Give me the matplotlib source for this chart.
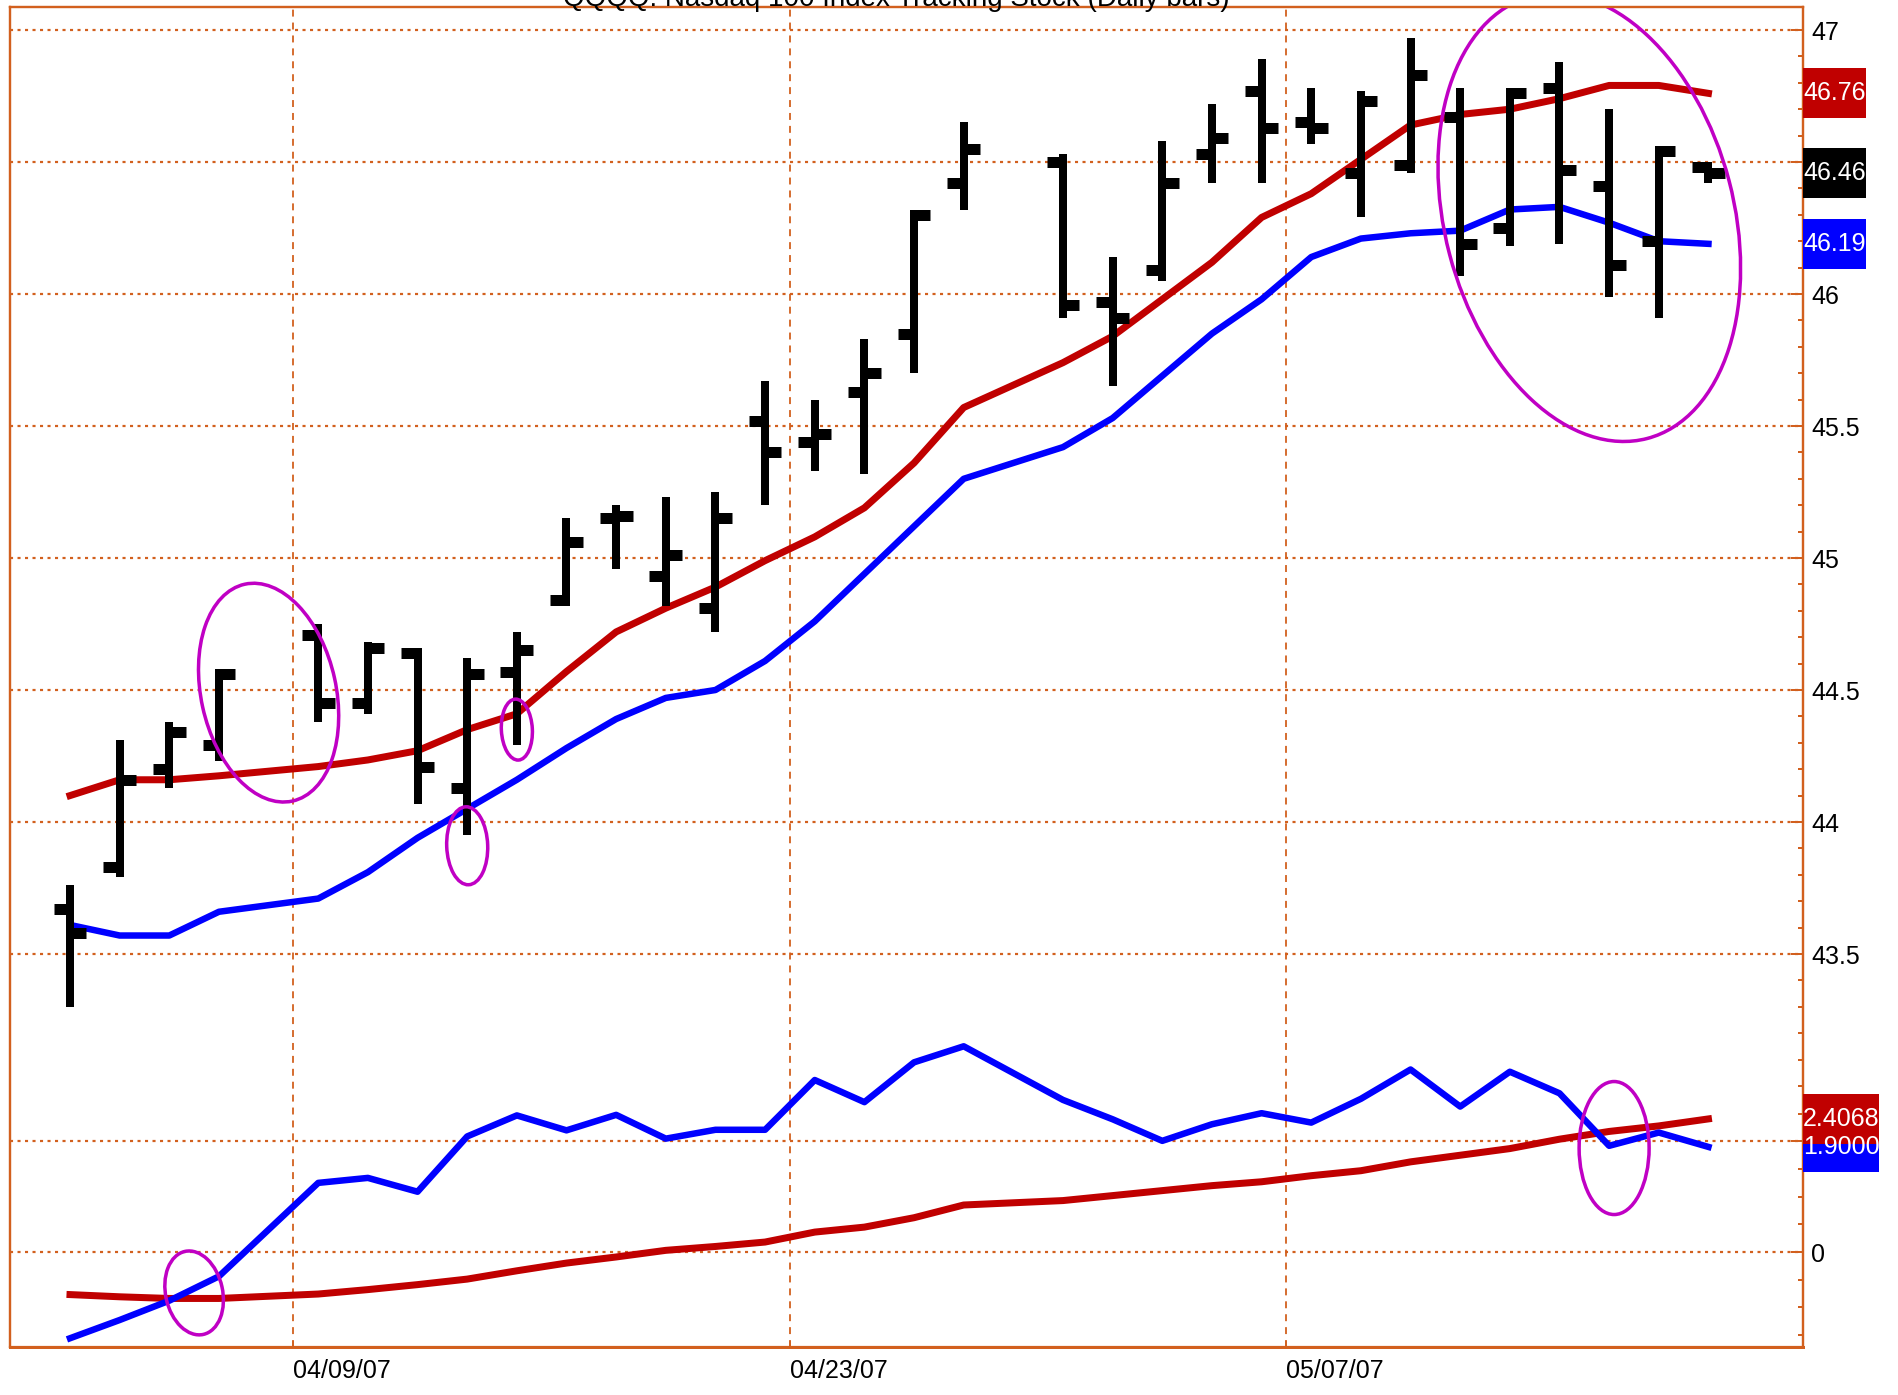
import numpy as np
import matplotlib
matplotlib.use('Agg')
import matplotlib.pyplot as plt
import matplotlib.font_manager as fm
from matplotlib.patches import Ellipse, Rectangle
from matplotlib.transforms import IdentityTransform

# ---------------- data ----------------
dates = ['2007-04-02', '2007-04-03', '2007-04-04', '2007-04-05', '2007-04-09',
         '2007-04-10', '2007-04-11', '2007-04-12', '2007-04-13', '2007-04-16',
         '2007-04-17', '2007-04-18', '2007-04-19', '2007-04-20', '2007-04-23',
         '2007-04-24', '2007-04-25', '2007-04-26', '2007-04-30', '2007-05-01',
         '2007-05-02', '2007-05-03', '2007-05-04', '2007-05-07', '2007-05-08',
         '2007-05-09', '2007-05-10', '2007-05-11', '2007-05-14', '2007-05-15',
         '2007-05-16', '2007-05-17']
opens = [43.67, 43.83, 44.20, 44.29, 44.71, 44.45, 44.64, 44.13, 44.57, 44.84,
         45.15, 44.93, 44.81, 45.52, 45.44, 45.63, 45.85, 46.42, 46.50, 45.97,
         46.09, 46.53, 46.77, 46.65, 46.46, 46.49, 46.67, 46.25, 46.78, 46.41,
         46.20, 46.48]
highs = [43.76, 44.31, 44.38, 44.58, 44.75, 44.68, 44.66, 44.62, 44.72, 45.15,
         45.20, 45.23, 45.25, 45.67, 45.60, 45.83, 46.32, 46.65, 46.53, 46.14,
         46.58, 46.72, 46.89, 46.78, 46.77, 46.97, 46.78, 46.78, 46.88, 46.70,
         46.56, 46.50]
lows = [43.30, 43.79, 44.13, 44.23, 44.38, 44.41, 44.07, 43.95, 44.29, 44.82,
        44.96, 44.82, 44.72, 45.20, 45.33, 45.32, 45.70, 46.32, 45.91, 45.65,
        46.05, 46.42, 46.42, 46.57, 46.29, 46.46, 46.07, 46.18, 46.19, 45.99,
        45.91, 46.42]
closes = [43.58, 44.16, 44.34, 44.56, 44.45, 44.66, 44.21, 44.56, 44.65, 45.06,
          45.16, 45.01, 45.15, 45.40, 45.47, 45.70, 46.30, 46.55, 45.96, 45.91,
          46.42, 46.59, 46.63, 46.63, 46.73, 46.83, 46.19, 46.76, 46.47, 46.11,
          46.54, 46.46]
ma_red = [44.10, 44.16, 44.16, 44.175, 44.21, 44.235, 44.27, 44.35, 44.41, 44.57,
          44.72, 44.81, 44.89, 44.99, 45.08, 45.19, 45.36, 45.57, 45.74, 45.84,
          45.98, 46.12, 46.29, 46.38, 46.51, 46.64, 46.68, 46.70, 46.74, 46.79,
          46.79, 46.76]
ma_blue = [43.61, 43.57, 43.57, 43.66, 43.71, 43.81, 43.94, 44.05, 44.16, 44.28,
           44.39, 44.47, 44.50, 44.61, 44.76, 44.94, 45.12, 45.30, 45.42, 45.53,
           45.69, 45.85, 45.98, 46.14, 46.21, 46.23, 46.24, 46.32, 46.33, 46.27,
           46.20, 46.19]
osc_blue = [-1.56, -1.23, -0.88, -0.44, 1.25, 1.34, 1.09, 2.09, 2.47, 2.20,
            2.48, 2.05, 2.21, 2.21, 3.11, 2.71, 3.43, 3.72, 2.75, 2.40,
            2.01, 2.31, 2.51, 2.34, 2.77, 3.30, 2.63, 3.26, 2.87, 1.92,
            2.16, 1.9000]
osc_red = [-0.77, -0.81, -0.84, -0.84, -0.76, -0.68, -0.59, -0.49, -0.34, -0.20,
           -0.09, 0.03, 0.10, 0.18, 0.36, 0.45, 0.62, 0.85, 0.93, 1.02,
           1.11, 1.20, 1.27, 1.38, 1.47, 1.63, 1.75, 1.87, 2.04, 2.18,
           2.28, 2.4068]
xtick_dates = ['2007-04-09', '2007-04-23', '2007-05-07']
xtick_labels = ['04/09/07', '04/23/07', '05/07/07']
price_ticks = [43.5, 44.0, 44.5, 45.0, 45.5, 46.0, 46.5, 47.0]
price_tick_labels = ['43.5', '44', '44.5', '45', '45.5', '46', '', '47']  # 46.5 hidden by box
osc_ticks = [0, 2]
osc_tick_labels = ['0', '']  # 2 hidden by boxes
title = 'QQQQ: Nasdaq 100 Index Tracking Stock (Daily bars)'

# ---------------- style ----------------
names = {f.name for f in fm.fontManager.ttflist}
FONT = 'Liberation Sans' if 'Liberation Sans' in names else 'DejaVu Sans'
plt.rcParams['font.family'] = [FONT, 'DejaVu Sans']
plt.rcParams['lines.scale_dashes'] = False
PX = 0.72  # points per pixel at dpi 100
GRID = '#D2601E'
RED = '#C00000'
BLUE = '#0000FF'
MAG = '#C000C4'
FS = 18
BOX_FS = 18

slots = np.busday_count(dates[0], dates).astype(float)
tick_slots = np.busday_count(dates[0], xtick_dates) - 0.5

fig = plt.figure(figsize=(18.98, 13.95), dpi=100)
W, H = 1898.0, 1395.0
L, R, T, B = 9.7, 1803.0, 7.0, 1347.0
ax = fig.add_axes([L / W, 1 - B / H, (R - L) / W, (B - T) / H])
ax2 = ax.twinx()

x0, dx = 70.0, 49.65
ax.set_xlim((L - x0) / dx, (R - x0) / dx)
p_top, p_px = 47.0, 264.0   # price 47 at y=30px, 264 px per unit
ax.set_ylim(p_top - (B - 30) / p_px, p_top + (30 - T) / p_px)
o_zero, o_px = 1252.0, 55.3
ax2.set_ylim((o_zero - B) / o_px, (o_zero - T) / o_px)

for a in (ax, ax2):
    for s in a.spines.values():
        s.set_color(GRID)
        s.set_linewidth(2.2 * PX)
ax2.spines['bottom'].set_linewidth(3 * PX)

# grid lines
for p in price_ticks:
    ln = ax.axhline(p, color=GRID, lw=2.2 * PX, zorder=0.5)
    ln.set_dashes((2.2, 3.2))
for o in osc_ticks:
    ln = ax2.axhline(o, color=GRID, lw=2.2 * PX, zorder=0.5)
    ln.set_dashes((2.2, 3.2))
for t in tick_slots:
    ln = ax.axvline(t, color=GRID, lw=1.8 * PX, zorder=0.5)
    ln.set_dashes((5.0, 4.3))

# moving averages
ax.plot(slots, ma_red, color=RED, lw=7 * PX, solid_joinstyle='round', zorder=2)
ax.plot(slots, ma_blue, color=BLUE, lw=6.5 * PX, solid_joinstyle='round', zorder=2)

# OHLC bars
tk = 0.33
vl = ax.vlines(slots, lows, highs, color='black', lw=8 * PX, zorder=3)
vl.set_capstyle('butt')
hl1 = ax.hlines(opens, slots - tk, slots, color='black', lw=11 * PX, zorder=3)
hl2 = ax.hlines(closes, slots, slots + tk, color='black', lw=11 * PX, zorder=3)
hl1.set_capstyle('butt')
hl2.set_capstyle('butt')

# oscillator
ax2.plot(slots, osc_red, color=RED, lw=7 * PX, solid_joinstyle='round', zorder=2)
ax2.plot(slots, osc_blue, color=BLUE, lw=6.5 * PX, solid_joinstyle='round', zorder=2)

# ticks
ax.yaxis.tick_right()
ax.set_yticks(price_ticks)
ax.set_yticklabels(price_tick_labels)
ax.set_yticks([round(v, 1) for v in np.arange(43.1, 47.05, 0.1)
               if round(v, 1) not in price_ticks], minor=True)
ax2.set_yticks(osc_ticks)
ax2.set_yticklabels(osc_tick_labels)
ax2.set_yticks([-1.5, -1.0, -0.5, 0.5, 1.0, 1.5, 2.5, 3.0], minor=True)
for a in (ax, ax2):
    a.tick_params(axis='y', which='major', direction='in', length=12 * PX,
                  width=2 * PX, color=GRID, labelsize=FS, pad=8 * PX,
                  labelcolor='black', left=False, right=True, labelleft=False,
                  labelright=True)
    a.tick_params(axis='y', which='minor', direction='in', length=5 * PX,
                  width=2 * PX, color=GRID, left=False, right=True)
ax.set_xticks(tick_slots)
ax.set_xticklabels(xtick_labels)
ax.tick_params(axis='x', direction='in', length=6 * PX, width=1.5 * PX,
               color=GRID, labelsize=FS, pad=12 * PX, top=False)
for lab in ax.get_xticklabels():
    lab.set_ha('left')
ax2.tick_params(axis='x', bottom=False, labelbottom=False)

# value boxes at right
def value_box(axis, value, text, color, width_px):
    trans = axis.get_yaxis_transform()
    w_ax = width_px / (R - L)
    h_px = 50.0
    scale = p_px if axis is ax else o_px
    h = h_px / scale
    rect = Rectangle((1.0, value - h / 2), w_ax, h, transform=trans,
                     facecolor=color, edgecolor='none', clip_on=False, zorder=20)
    fig.add_artist(rect)
    fig.add_artist(plt.Text(1.0 + w_ax / 2, value, text, transform=trans,
                            ha='center', va='center', color='white',
                            fontsize=BOX_FS, zorder=21, clip_on=False,
                            family=[FONT, 'DejaVu Sans']))

value_box(ax, ma_red[-1], f'{ma_red[-1]:.2f}', RED, 63)
value_box(ax, closes[-1], f'{closes[-1]:.2f}', 'black', 63)
value_box(ax, ma_blue[-1], f'{ma_blue[-1]:.2f}', BLUE, 63)
value_box(ax2, osc_blue[-1], f'{osc_blue[-1]:.4f}', BLUE, 76)
value_box(ax2, osc_red[-1], f'{osc_red[-1]:.4f}', RED, 76)

# title (mostly cut off at the top edge as in the original)
fig.text(896 / W, 1 - 6 / H, title, ha='center', va='baseline',
         fontsize=20, color='black')

# hand-drawn style annotation ellipses: (axis, slot, value, w_px, h_px, angle)
ellipses = [
    (ax, 4.0, 44.49, 135, 222, 12.4),
    (ax, 8.0, 43.91, 41, 78, 2),
    (ax, 9.0, 44.35, 31, 61, 3),
    (ax, 30.6, 46.29, 289, 457, 14.7),
    (ax2, 2.5, -0.74, 57, 85, 12.5),
    (ax2, 31.1, 1.88, 70, 133, 0),
]
for a, sx, vy, w, h, ang in ellipses:
    cx, cy = a.transData.transform((sx, vy))
    e = Ellipse((cx, cy), w, h, angle=ang, transform=IdentityTransform(),
                facecolor='none', edgecolor=MAG, lw=3.5 * PX, zorder=6)
    a.add_artist(e)

fig.savefig('out.png', dpi=100)
